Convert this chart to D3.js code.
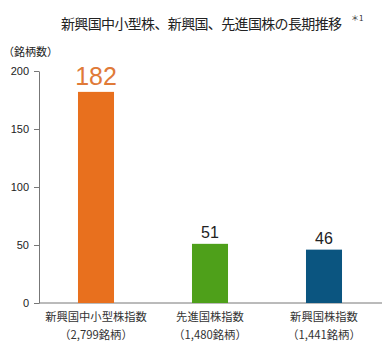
<!DOCTYPE html>
<html><head><meta charset="utf-8">
<script src="https://cdn.jsdelivr.net/npm/d3@7"></script>
<style>
html,body{margin:0;padding:0;background:#fff;}
svg{display:block;font-family:"Noto Sans CJK JP","Noto Sans",sans-serif;}
</style></head>
<body>
<svg id="chart" width="384" height="344"></svg>
<script>
const categories = ["新興国中小型株指数", "先進国株指数", "新興国株指数"];
const subLabels = ["（2,799銘柄）", "（1,480銘柄）", "（1,441銘柄）"];
const values = [182, 51, 46];
const colors = ["#E8701E", "#4EA01A", "#0B5580"];
const labelColors = ["#E07A38", "#222", "#222"];
const yTicks = [0, 50, 100, 150, 200];
const title = "新興国中小型株、新興国、先進国株の長期推移";
const yUnit = "（銘柄数）";

const svg = d3.select("#chart");
const x = d3.scaleBand().domain(categories).range([39, 381]).paddingInner(0.684).paddingOuter(0.342);
const y = d3.scaleLinear().domain([0, 200]).range([303, 71]);

svg.append("text").attr("x", 61).attr("y", 29).attr("font-size", 14).attr("fill", "#222")
  .attr("textLength", 281).text(title);
svg.append("text").attr("x", 351).attr("y", 21).attr("font-size", 8).attr("fill", "#333").text("＊1");
svg.append("text").attr("x", 3).attr("y", 56).attr("font-size", 11).attr("fill", "#222").text(yUnit);

const yAxis = d3.axisLeft(y).tickValues(yTicks).tickSize(5).tickPadding(5).tickSizeOuter(0);
const gy = svg.append("g").attr("transform", "translate(39,0)").call(yAxis);
gy.select(".domain").attr("stroke", "#777");
gy.selectAll(".tick line").attr("stroke", "#777");
gy.selectAll(".tick text").attr("font-size", 11).attr("fill", "#222").attr("font-family", "Arial, Liberation Sans, sans-serif");

svg.append("line").attr("x1", 39).attr("x2", 382).attr("y1", y(0)).attr("y2", y(0)).attr("stroke", "#777");

svg.selectAll("rect.bar").data(values).join("rect").attr("class", "bar")
  .attr("x", (d, i) => x(categories[i])).attr("width", x.bandwidth())
  .attr("y", d => y(d)).attr("height", d => y(0) - y(d))
  .attr("fill", (d, i) => colors[i]);

svg.selectAll("text.val").data(values).join("text").attr("class", "val")
  .attr("x", (d, i) => x(categories[i]) + x.bandwidth() / 2)
  .attr("y", (d, i) => y(d) - (i === 0 ? 7 : 6))
  .attr("text-anchor", "middle")
  .attr("font-family", "Arial, Liberation Sans, sans-serif")
  .attr("font-size", (d, i) => i === 0 ? 25 : 16)
  .attr("fill", (d, i) => labelColors[i])
  .text(d => d);

categories.forEach((c, i) => {
  const cx = x(c) + x.bandwidth() / 2;
  svg.append("text").attr("x", cx).attr("y", 321).attr("text-anchor", "middle")
    .attr("font-size", 11.3).attr("fill", "#333").text(c);
  svg.append("text").attr("x", cx).attr("y", 339).attr("text-anchor", "middle")
    .attr("font-size", 11.3).attr("fill", "#333").text(subLabels[i]);
});
</script>
</body></html>
